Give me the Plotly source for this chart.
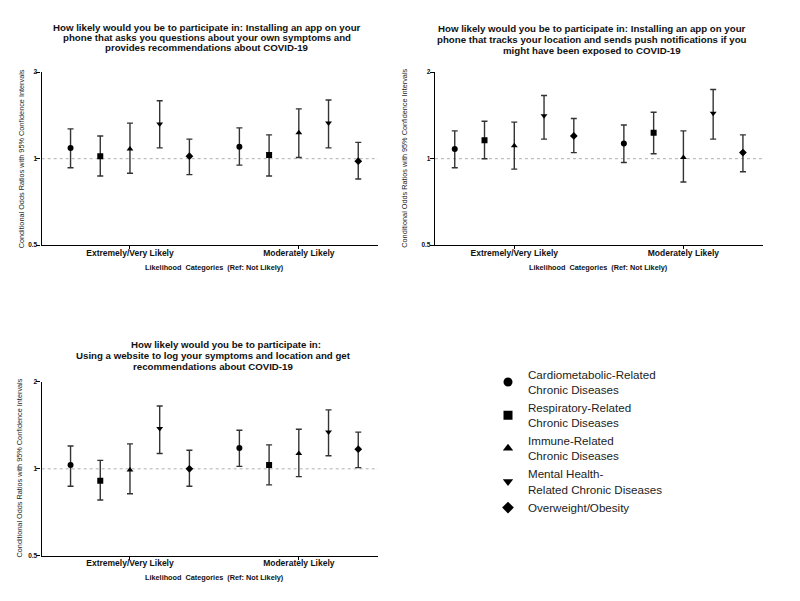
import plotly.graph_objects as go

categories = ["Extremely/Very Likely", "Moderately Likely"]
series_names = [
    "Cardiometabolic-Related<br>Chronic Diseases",
    "Respiratory-Related<br>Chronic Diseases",
    "Immune-Related<br>Chronic Diseases",
    "Mental Health-<br>Related Chronic Diseases",
    "Overweight/Obesity",
]
series_symbols = ["circle", "square", "triangle-up", "triangle-down", "diamond"]

# Panel 1: app asking about symptoms
p1_or = [[1.09, 1.10], [1.02, 1.03], [1.08, 1.23], [1.32, 1.33], [1.02, 0.98]]
p1_lo = [[0.93, 0.95], [0.87, 0.87], [0.89, 1.01], [1.09, 1.09], [0.88, 0.85]]
p1_hi = [[1.27, 1.28], [1.20, 1.21], [1.33, 1.49], [1.59, 1.60], [1.17, 1.14]]

# Panel 2: app tracking location
p2_or = [[1.08, 1.13], [1.16, 1.23], [1.11, 1.01], [1.41, 1.44], [1.20, 1.05]]
p2_lo = [[0.93, 0.97], [1.00, 1.04], [0.92, 0.83], [1.17, 1.17], [1.05, 0.90]]
p2_hi = [[1.25, 1.31], [1.35, 1.45], [1.34, 1.25], [1.66, 1.74], [1.38, 1.21]]

# Panel 3: website to log symptoms
p3_or = [[1.03, 1.18], [0.91, 1.03], [0.99, 1.13], [1.38, 1.34], [1.00, 1.17]]
p3_lo = [[0.87, 1.02], [0.78, 0.88], [0.82, 0.94], [1.13, 1.11], [0.87, 1.01]]
p3_hi = [[1.20, 1.36], [1.07, 1.21], [1.22, 1.37], [1.65, 1.60], [1.16, 1.34]]

title1_lines = ["How likely would you be to participate in: Installing an app on your",
                "phone that asks you questions about your own symptoms and",
                "provides recommendations about COVID-19"]
title2_lines = ["How likely would you be to participate in: Installing an app on your",
                "phone that tracks your location and sends push notifications if you",
                "might have been exposed to COVID-19"]
title3_lines = ["How likely would you be to participate in:",
                "Using a website to log your symptoms and location and get",
                "recommendations about COVID-19"]
y_title = "Conditional Odds Ratios with 95% Confidence Intervals"
x_title = "<b>Likelihood  Categories  (Ref: Not Likely)</b>"
y_ticks = [0.5, 1, 2]
y_ticktext = ["0.5", "1", "2"]

FONT = "Liberation Sans, Arial, sans-serif"
panels = [(p1_or, p1_lo, p1_hi), (p2_or, p2_lo, p2_hi), (p3_or, p3_lo, p3_hi)]
titles = [title1_lines, title2_lines, title3_lines]

fig = go.Figure()
step = 0.176
for p, (ors, los, his) in enumerate(panels):
    ax = "" if p == 0 else str(p + 1)
    for j in range(len(series_names)):
        xs = [i + (j - 2) * step for i in range(len(categories))]
        fig.add_trace(go.Scatter(
            x=xs, y=ors[j], mode="markers",
            xaxis="x" + ax, yaxis="y" + ax,
            marker=dict(symbol=series_symbols[j], size=6, color="black"),
            error_y=dict(type="data", symmetric=False,
                         array=[h - o for h, o in zip(his[j], ors[j])],
                         arrayminus=[o - l for o, l in zip(ors[j], los[j])],
                         color="#333333", thickness=1.4, width=3),
            showlegend=False, hoverinfo="skip",
        ))

# legend-only entries
for j in range(len(series_names)):
    fig.add_trace(go.Scatter(
        x=[None], y=[None], mode="markers", name=series_names[j],
        marker=dict(symbol=series_symbols[j], size=9, color="black"),
        showlegend=True,
    ))

xdomains = [[0.0521, 0.4725], [0.5437, 0.9534], [0.0521, 0.4725]]
ydomains = [[0.594, 0.8852], [0.594, 0.8852], [0.0710, 0.3639]]
xranges = [[-0.523, 1.469], [-0.469, 1.469], [-0.523, 1.469]]

layout = dict(
    width=800, height=601,
    margin=dict(l=0, r=0, t=0, b=0),
    paper_bgcolor="white", plot_bgcolor="white",
    font=dict(family=FONT, color="black"),
    legend=dict(x=0.61, y=0.40, xanchor="left", yanchor="top",
                font=dict(size=11.6, family=FONT, color="#222222"),
                bgcolor="rgba(0,0,0,0)", tracegroupgap=0),
    shapes=[], annotations=[],
)
for p in range(3):
    ax = "" if p == 0 else str(p + 1)
    layout["xaxis" + ax] = dict(
        domain=xdomains[p], range=xranges[p], anchor="y" + ax,
        tickvals=[0, 1], ticktext=["<b>%s</b>" % c for c in categories],
        tickfont=dict(size=8.5, family=FONT, color="#111111"),
        ticks="outside", ticklen=3, tickwidth=1.2, tickcolor="black",
        ticklabelstandoff=-4,
        showline=True, linecolor="black", linewidth=1.4,
        showgrid=False, zeroline=False,
    )
    layout["yaxis" + ax] = dict(
        domain=ydomains[p], type="log",
        range=[-0.30103, 0.30103], anchor="x" + ax,
        tickvals=y_ticks, ticktext=["<b>%s</b>" % t for t in y_ticktext],
        tickfont=dict(size=6.5, family=FONT, color="#111111"),
        ticks="outside", ticklen=4, tickwidth=1.2, tickcolor="black",
        ticklabelstandoff=-2,
        showline=True, linecolor="black", linewidth=1.4,
        showgrid=False, zeroline=False,
    )
    layout["shapes"].append(dict(
        type="line", xref="x%s domain" % ax, yref="y" + ax,
        x0=0, x1=1, y0=1, y1=1,
        line=dict(color="#b0b0b0", width=1, dash="3px,3px"), layer="below",
    ))

# title line positions in pixels (x center, y center)
title_line_x = [[207, 207, 207], [591.7, 591.7, 591.7], [226, 213, 213]]
title_line_y = [[23.3, 33.8, 44.3], [25, 36, 47], [345, 355.7, 366.5]]
for p in range(3):
    for k, line in enumerate(titles[p]):
        layout["annotations"].append(dict(
            text="<b>%s</b>" % line,
            x=title_line_x[p][k] / 800, y=1 - title_line_y[p][k] / 601,
            xref="paper", yref="paper", showarrow=False,
            xanchor="center", yanchor="middle",
            font=dict(size=9.7, family=FONT, color="#111111"),
        ))

ytitle_pos = [(0.0271, 0.7396), (0.5063, 0.7396), (0.025, 0.218)]
for p in range(3):
    layout["annotations"].append(dict(
        text=y_title, x=ytitle_pos[p][0], y=ytitle_pos[p][1],
        xref="paper", yref="paper", showarrow=False, textangle=-90,
        xanchor="center", yanchor="middle",
        font=dict(size=7.3, family=FONT, color="#222222"),
    ))

xtitle_pos = [(0.268, 0.557), (0.7485, 0.557), (0.268, 0.035)]
for p in range(3):
    layout["annotations"].append(dict(
        text=x_title, x=xtitle_pos[p][0], y=xtitle_pos[p][1],
        xref="paper", yref="paper", showarrow=False,
        xanchor="center", yanchor="middle",
        font=dict(size=7.3, family=FONT, color="#111111"),
    ))

fig.update_layout(**layout)
fig.write_html("out.html", config={"displayModeBar": False},
               post_script="document.body.style.margin='0';document.body.style.overflow='hidden';")
